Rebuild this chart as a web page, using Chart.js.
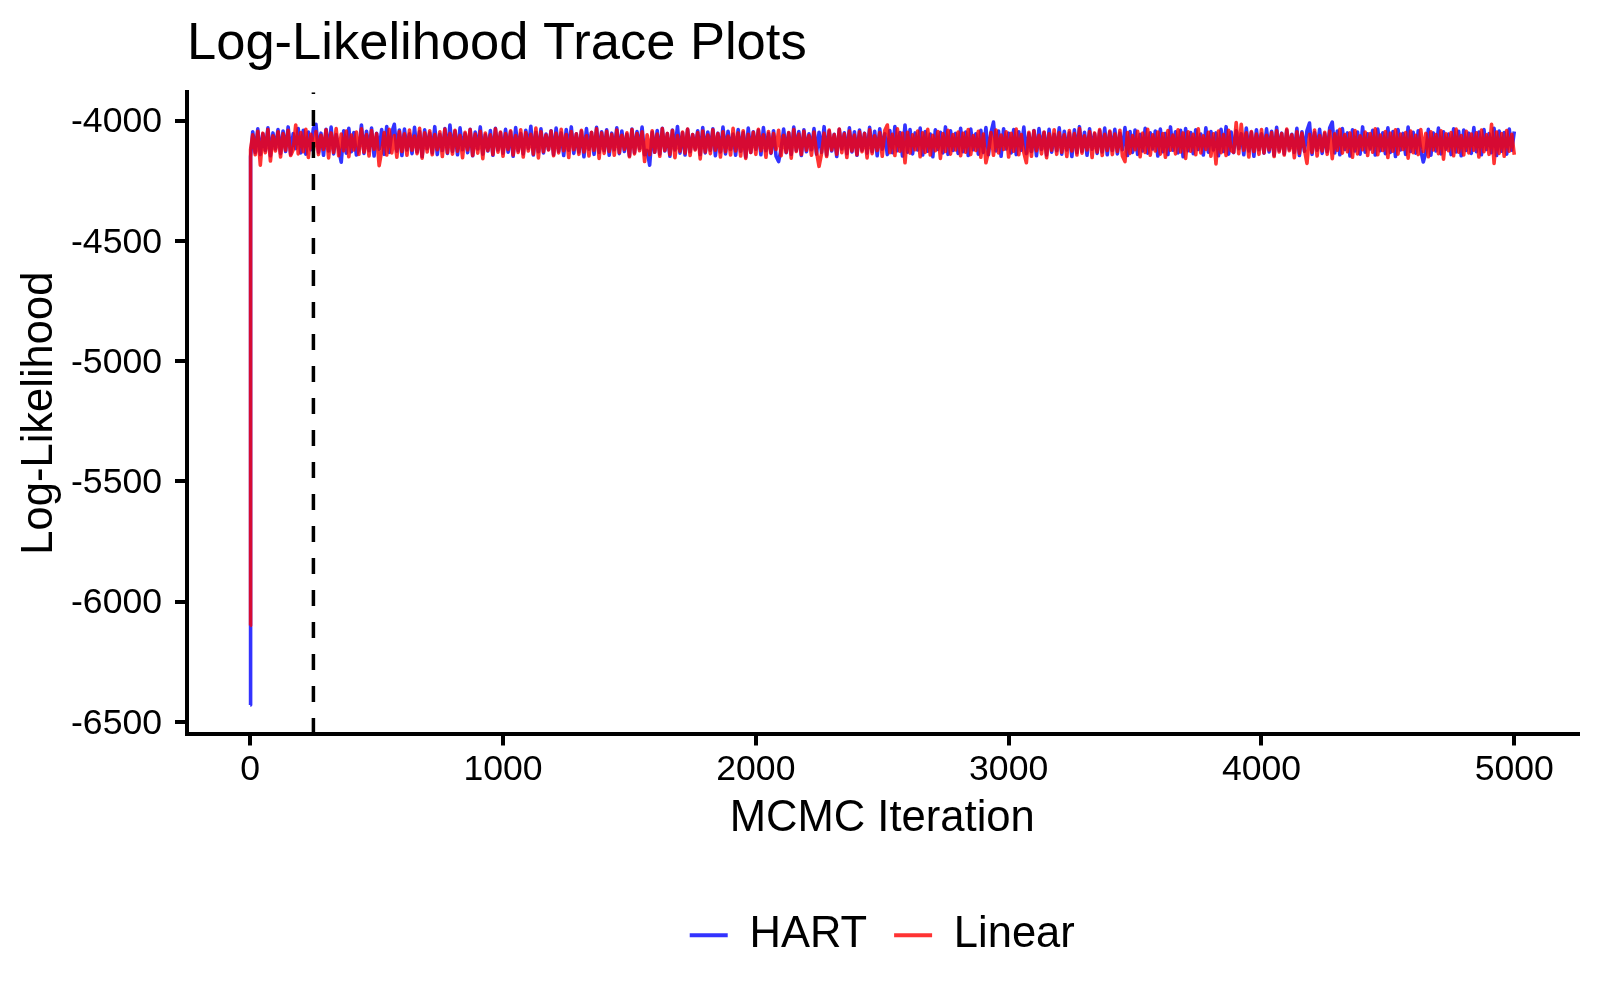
<!DOCTYPE html>
<html>
<head>
<meta charset="utf-8">
<script src="https://cdn.jsdelivr.net/npm/chart.js@4.4.1/dist/chart.umd.min.js"></script>
<style>
html,body{margin:0;padding:0;background:#fff;}
canvas{display:block;}
</style>
</head>
<body>
<canvas id="c" width="1600" height="1000"></canvas>
<script>
// ---- data ----
const seriesNames = ['HART', 'Linear'];
const seriesColors = ['rgba(0,0,255,0.8)', 'rgba(255,0,0,0.8)'];
const startIterations = [0, 1, 2];
const thinnedStep = 10; // iterations between retained samples after the start
const hartStart = [-6430, -4410, -4150];
const linearStart = [-6100, -4330, -4120];
const hartValues = [
-4046,-4133,-4034,-4141,-4055,-4124,-4030,-4146,-4051,-4118,-4037,-4137,-4043,-4128,-4026,-4140,-4054,-4116,-4033,-4134,
-4040,-4139,-4047,-4121,-4031,-4015,-4131,-4052,-4144,-4036,-4126,-4027,-4138,-4058,-4120,-4173,-4042,-4135,-4032,-4129,
-4049,-4143,-4118,-4018,-4136,-4044,-4125,-4031,-4147,-4053,-4119,-4037,-4140,-4024,-4132,-4048,-4015,-4127,-4039,-4145,
-4035,-4122,-4055,-4137,-4028,-4130,-4045,-4149,-4038,-4117,-4051,-4134,-4025,-4141,-4057,-4124,-4033,-4136,-4018,-4128,
-4043,-4142,-4030,-4121,-4054,-4133,-4036,-4146,-4047,-4118,-4026,-4139,-4059,-4126,-4041,-4144,-4032,-4122,-4050,-4135,
-4036,-4131,-4046,-4148,-4029,-4125,-4053,-4138,-4040,-4116,-4023,-4143,-4048,-4129,-4034,-4134,-4056,-4120,-4042,-4141,
-4031,-4127,-4051,-4145,-4037,-4123,-4026,-4136,-4055,-4130,-4044,-4150,-4033,-4119,-4049,-4140,-4028,-4132,-4046,-4125,
-4038,-4144,-4052,-4121,-4030,-4137,-4043,-4128,-4057,-4146,-4035,-4133,-4045,-4117,-4027,-4142,-4124,-4185,-4048,-4131,
-4041,-4139,-4032,-4126,-4054,-4148,-4039,-4122,-4024,-4135,-4050,-4143,-4036,-4129,-4058,-4118,-4042,-4141,-4029,-4134,
-4047,-4123,-4034,-4146,-4052,-4130,-4027,-4138,-4044,-4120,-4056,-4144,-4037,-4127,-4049,-4151,-4031,-4132,-4046,-4119,
-4040,-4142,-4029,-4125,-4053,-4136,-4042,-4148,-4170,-4117,-4035,-4133,-4051,-4140,-4027,-4124,-4045,-4145,-4038,-4129,
-4055,-4121,-4033,-4139,-4048,-4132,-4025,-4143,-4043,-4126,-4057,-4149,-4036,-4118,-4050,-4137,-4030,-4130,-4046,-4144,
-4039,-4123,-4052,-4135,-4028,-4128,-4044,-4146,-4034,-4119,-4054,-4141,-4041,-4133,-4024,-4125,-4049,-4147,-4018,-4131,
-4037,-4138,-4051,-4122,-4031,-4143,-4045,-4127,-4056,-4150,-4038,-4120,-4048,-4134,-4026,-4140,-4042,-4124,-4053,-4136,
-4032,-4129,-4047,-4145,-4035,-4121,-4055,-4139,-4040,-4132,-4029,-4142,-4050,-4006,-4126,-4043,-4148,-4034,-4118,-4052,
-4134,-4037,-4141,-4046,-4123,-4027,-4137,-4054,-4128,-4041,-4146,-4033,-4120,-4049,-4143,-4036,-4131,-4057,-4125,-4030,
-4139,-4044,-4122,-4051,-4149,-4038,-4133,-4025,-4127,-4048,-4144,-4034,-4119,-4055,-4136,-4042,-4130,-4031,-4142,-4047,
-4124,-4036,-4138,-4052,-4121,-4029,-4145,-4045,-4132,-4039,-4140,-4057,-4126,-4032,-4135,-4050,-4118,-4043,-4147,-4035,
-4129,-4053,-4141,-4026,-4123,-4046,-4134,-4040,-4150,-4033,-4125,-4049,-4137,-4038,-4120,-4056,-4143,-4030,-4131,-4045,
-4122,-4051,-4146,-4036,-4128,-4025,-4139,-4047,-4133,-4042,-4117,-4054,-4142,-4031,-4126,-4048,-4148,-4038,-4121,-4055,
-4135,-4034,-4130,-4044,-4144,-4028,-4124,-4052,-4138,-4039,-4119,-4057,-4132,-4032,-4145,-4046,-4127,-4041,-4010,-4140,
-4049,-4123,-4036,-4136,-4054,-4129,-4029,-4006,-4134,-4043,-4142,-4033,-4120,-4051,-4147,-4038,-4126,-4047,-4139,-4026,
-4131,-4055,-4118,-4040,-4143,-4035,-4125,-4050,-4137,-4030,-4132,-4045,-4149,-4037,-4122,-4053,-4140,-4027,-4128,-4048,
-4135,-4042,-4121,-4172,-4133,-4036,-4144,-4051,-4126,-4031,-4138,-4046,-4119,-4056,-4141,-4034,-4130,-4044,-4146,-4039,
-4124,-4052,-4136,-4029,-4129,-4047,-4142,-4037,-4120,-4054,-4133,-4032,-4145,-4043,-4127,-4049,-4139,-4035,-4123,-4045
];
const linearValues = [
-4059,-4142,-4044,-4185,-4052,-4133,-4037,-4168,-4063,-4126,-4046,-4151,-4054,-4123,-4040,-4145,-4121,-4018,-4138,-4049,
-4129,-4036,-4153,-4057,-4124,-4045,-4141,-4061,-4120,-4038,-4155,-4051,-4132,-4033,-4146,-4056,-4125,-4043,-4150,-4060,
-4122,-4047,-4140,-4034,-4131,-4058,-4147,-4041,-4119,-4054,-4187,-4126,-4049,-4143,-4036,-4134,-4062,-4152,-4045,-4128,
-4055,-4144,-4039,-4123,-4064,-4137,-4032,-4156,-4050,-4130,-4042,-4142,-4058,-4121,-4046,-4149,-4035,-4133,-4053,-4139,
-4040,-4127,-4061,-4154,-4048,-4122,-4037,-4145,-4056,-4135,-4044,-4158,-4051,-4124,-4059,-4141,-4034,-4131,-4047,-4148,
-4054,-4120,-4042,-4143,-4062,-4132,-4038,-4151,-4049,-4126,-4057,-4139,-4031,-4155,-4046,-4129,-4060,-4122,-4043,-4146,
-4052,-4134,-4036,-4125,-4058,-4153,-4045,-4121,-4055,-4140,-4040,-4130,-4063,-4147,-4048,-4123,-4034,-4157,-4051,-4136,
-4044,-4128,-4057,-4144,-4039,-4133,-4061,-4120,-4050,-4150,-4037,-4138,-4054,-4125,-4046,-4170,-4059,-4142,-4042,-4131,
-4056,-4148,-4033,-4124,-4053,-4141,-4041,-4154,-4062,-4127,-4047,-4135,-4035,-4145,-4058,-4122,-4049,-4159,-4043,-4130,
-4060,-4137,-4038,-4123,-4054,-4151,-4046,-4129,-4064,-4143,-4032,-4126,-4051,-4147,-4042,-4157,-4057,-4132,-4048,-4140,
-4036,-4125,-4059,-4152,-4045,-4134,-4053,-4120,-4040,-4146,-4061,-4131,-4049,-4156,-4037,-4128,-4056,-4141,-4044,-4123,
-4062,-4144,-4047,-4130,-4190,-4136,-4052,-4149,-4039,-4122,-4058,-4140,-4035,-4133,-4055,-4153,-4043,-4126,-4060,-4142,
-4046,-4129,-4054,-4155,-4038,-4137,-4063,-4124,-4049,-4148,-4041,-4018,-4133,-4057,-4145,-4034,-4127,-4052,-4175,-4048,
-4135,-4059,-4121,-4043,-4150,-4050,-4132,-4036,-4143,-4061,-4125,-4045,-4157,-4054,-4128,-4040,-4139,-4058,-4122,-4047,
-4146,-4052,-4131,-4037,-4141,-4062,-4124,-4044,-4152,-4056,-4175,-4129,-4049,-4144,-4039,-4134,-4060,-4120,-4046,-4151,
-4053,-4127,-4035,-4142,-4058,-4133,-4175,-4048,-4148,-4042,-4125,-4061,-4138,-4047,-4154,-4055,-4123,-4038,-4140,-4050,
-4131,-4059,-4149,-4041,-4126,-4054,-4143,-4033,-4135,-4063,-4122,-4045,-4153,-4051,-4130,-4037,-4145,-4057,-4124,-4043,
-4141,-4056,-4128,-4040,-4147,-4170,-4049,-4136,-4062,-4121,-4044,-4150,-4052,-4132,-4036,-4144,-4059,-4126,-4047,-4139,
-4054,-4152,-4041,-4123,-4060,-4138,-4038,-4130,-4051,-4157,-4046,-4127,-4057,-4142,-4034,-4134,-4063,-4120,-4048,-4148,
-4055,-4180,-4043,-4133,-4058,-4145,-4040,-4124,-4131,-4008,-4137,-4015,-4123,-4050,-4151,-4045,-4128,-4056,-4140,-4037,
-4134,-4061,-4122,-4049,-4149,-4042,-4130,-4054,-4143,-4035,-4125,-4059,-4154,-4046,-4136,-4052,-4121,-4178,-4057,-4132,
-4039,-4147,-4062,-4126,-4048,-4140,-4043,-4158,-4055,-4123,-4036,-4135,-4058,-4129,-4051,-4152,-4041,-4138,-4063,-4121,
-4047,-4145,-4054,-4131,-4034,-4142,-4060,-4124,-4045,-4153,-4052,-4127,-4038,-4139,-4056,-4120,-4049,-4156,-4043,-4133,
-4061,-4141,-4037,-4128,-4053,-4150,-4046,-4122,-4058,-4137,-4042,-4160,-4055,-4125,-4049,-4146,-4035,-4131,-4062,-4143,
-4044,-4134,-4056,-4123,-4050,-4151,-4039,-4129,-4059,-4140,-4015,-4178,-4047,-4136,-4054,-4148,-4041,-4127,-4057,-4142
];
const burnIn = 250;
const xTicks = [0, 1000, 2000, 3000, 4000, 5000];
const yTicks = [-6500, -6000, -5500, -5000, -4500, -4000];
const xLimits = [-250, 5250];
const yLimits = [-6551, -3882];

// ---- build ----
const iterations = startIterations.concat(hartValues.map((_, i) => (i + 1) * thinnedStep));
const hartData = hartStart.concat(hartValues);
const linearData = linearStart.concat(linearValues);

const FONT = '"Liberation Sans", Arial, Helvetica, sans-serif';
Chart.defaults.font.family = FONT;
Chart.defaults.color = '#000';

function traceDataset(name, data, color, order) {
  return {
    label: name, data: data, borderColor: color, backgroundColor: color,
    pointBorderColor: color, pointBorderWidth: 4,
    borderWidth: 3.6, pointRadius: 0, pointHoverRadius: 0, tension: 0, order: order,
    borderJoinStyle: 'round', borderCapStyle: 'butt'
  };
}

new Chart(document.getElementById('c'), {
  type: 'line',
  data: {
    labels: iterations,
    datasets: [
      traceDataset(seriesNames[0], hartData, seriesColors[0], 2),
      traceDataset(seriesNames[1], linearData, seriesColors[1], 1),
      {
        label: 'burn-in',
        data: [{x: burnIn, y: yLimits[0]}, {x: burnIn, y: yLimits[1]}],
        borderColor: '#000', backgroundColor: '#000', borderWidth: 3.5,
        borderDash: [16, 16], pointRadius: 0, order: 0
      }
    ]
  },
  options: {
    responsive: false,
    animation: false,
    devicePixelRatio: 1,
    events: [],
    layout: {padding: {left: 0, right: 22.5, top: 0, bottom: 33}},
    plugins: {
      tooltip: {enabled: false},
      title: {
        display: true, text: 'Log-Likelihood Trace Plots', align: 'start', fullSize: false,
        color: '#000', font: {size: 52.5, weight: 'normal', lineHeight: 1.2},
        padding: {top: 13.3, bottom: 16}
      },
      legend: {
        position: 'bottom', fullSize: false,
        labels: {
          usePointStyle: true, pointStyle: 'line', pointStyleWidth: 38,
          padding: 27, color: '#000', font: {size: 43.5, lineHeight: 1.2},
          filter: (item) => item.datasetIndex < 2,
          sort: (a, b) => a.datasetIndex - b.datasetIndex
        }
      }
    },
    scales: {
      x: {
        type: 'linear', min: xLimits[0], max: xLimits[1],
        afterBuildTicks: (s) => { s.ticks = xTicks.map(v => ({value: v})); },
        afterFit: (s) => { s.height = 152.5; },
        grid: {drawOnChartArea: false, drawTicks: true, tickLength: 11.5, tickWidth: 4, tickColor: '#000', lineWidth: 4, color: '#000'},
        border: {display: true, color: '#000', width: 4},
        ticks: {autoSkip: false, maxRotation: 0, padding: 3, color: '#000',
                font: {size: 35.6, lineHeight: 1.2}, callback: (v) => String(v)},
        title: {display: true, text: 'MCMC Iteration', color: '#000',
                font: {size: 43.6, lineHeight: 1.2}, padding: {top: 0, bottom: 40.9}}
      },
      y: {
        type: 'linear', min: yLimits[0], max: yLimits[1],
        afterBuildTicks: (s) => { s.ticks = yTicks.map(v => ({value: v})); },
        afterFit: (s) => { s.width = 187; },
        grid: {drawOnChartArea: false, drawTicks: true, tickLength: 12, tickWidth: 4, tickColor: '#000', lineWidth: 4, color: '#000'},
        border: {display: true, color: '#000', width: 4},
        ticks: {autoSkip: false, padding: 13, labelOffset: 2, color: '#000',
                font: {size: 35.6, lineHeight: 1.2}, callback: (v) => String(v)},
        title: {display: true, text: 'Log-Likelihood', color: '#000',
                font: {size: 43.5, lineHeight: 1.2}, padding: {top: 13.9, bottom: 0}}
      }
    }
  }
});
</script>
</body>
</html>
